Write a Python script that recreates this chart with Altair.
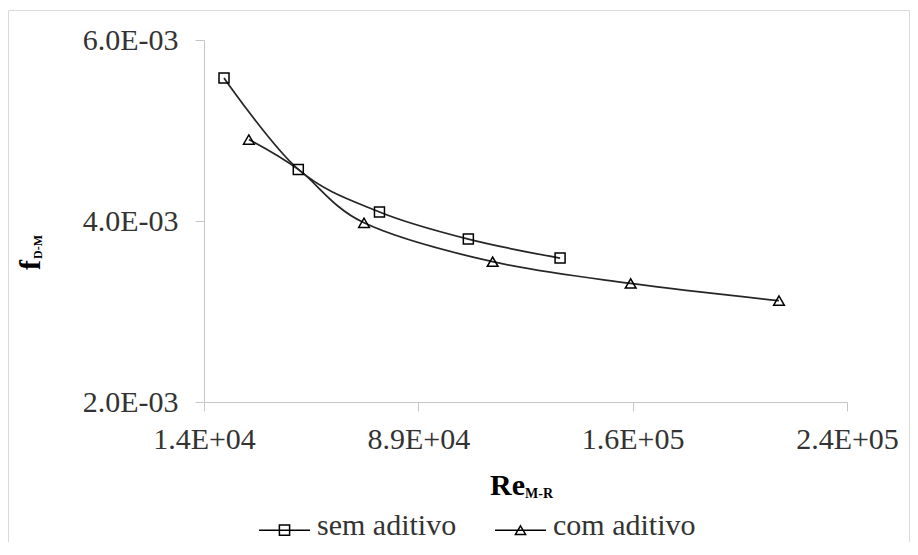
import altair as alt
import pandas as pd

series_names = ["sem aditivo", "com aditivo"]
sem_re = [21000, 47000, 75400, 106500, 138600]
sem_f = [5.58e-3, 4.57e-3, 4.10e-3, 3.80e-3, 3.59e-3]
com_re = [29700, 47000, 70000, 115000, 163300, 215200]
com_f = [4.90e-3, 4.57e-3, 3.98e-3, 3.55e-3, 3.31e-3, 3.12e-3]
x_ticks = [14000, 89000, 164000, 239000]
y_ticks = [0.002, 0.004, 0.006]

df = pd.DataFrame({
    "re": sem_re + com_re,
    "f": sem_f + com_f,
    "serie": [series_names[0]] * len(sem_re) + [series_names[1]] * len(com_re),
})
# the 'com aditivo' point that coincides with a 'sem aditivo' point has no visible marker
df["marker"] = ~((df["serie"] == series_names[1]) & df["re"].isin(sem_re))

FONT = "Liberation Serif"
AX = "#c6c6c6"
TXT = "#333333"
W, H = 643, 362

label_expr = ("substring(upper(format(datum.value,'.1e')),0,5) + '0' + "
              "substring(upper(format(datum.value,'.1e')),5)")

x_enc = alt.X("re:Q",
              scale=alt.Scale(domain=[14000, 239000], nice=False, zero=False),
              axis=alt.Axis(values=x_ticks, labelExpr=label_expr, grid=False,
                            domainColor=AX, tickColor=AX, tickSize=9,
                            labelFont=FONT, labelFontSize=30, labelColor=TXT,
                            labelPadding=13, labelFlush=False, labelOverlap=False,
                            title=""))
y_enc = alt.Y("f:Q",
              scale=alt.Scale(domain=[0.002, 0.006], nice=False, zero=False),
              axis=alt.Axis(values=y_ticks, labelExpr=label_expr, grid=False,
                            domainColor=AX, tickColor=AX, tickSize=9,
                            labelFont=FONT, labelFontSize=30, labelColor=TXT,
                            labelPadding=17, labelFlush=False, labelOverlap=False,
                            title=""))

base = alt.Chart(df)

lines = base.mark_line(interpolate="cardinal", strokeWidth=1.75, color="#262626").encode(
    x=x_enc, y=y_enc, detail="serie:N")

points = base.transform_filter("datum.marker").mark_point(
    filled=False, strokeWidth=1.5, color="black", opacity=1).encode(
    x=x_enc, y=y_enc,
    shape=alt.Shape("serie:N", scale=alt.Scale(domain=series_names, range=["square", "triangle-up"]), legend=None),
    size=alt.Size("serie:N", scale=alt.Scale(domain=series_names, range=[100, 115]), legend=None),
)

path_sem = "M-1,-0.2H1M-0.2,-0.4H0.2V0H-0.2Z"
path_com = "M-1,-0.2H1M0,-0.37L0.2,-0.03H-0.2Z"

legend_layer = base.mark_point(opacity=0, color="black", filled=False).encode(
    x=x_enc, y=y_enc,
    shape=alt.Shape("serie:N",
                    scale=alt.Scale(domain=series_names, range=[path_sem, path_com]),
                    legend=alt.Legend(orient="none", legendX=54, legendY=468.5,
                                      direction="horizontal", title=None,
                                      symbolSize=2601, symbolStrokeColor="black",
                                      symbolStrokeWidth=1.5, symbolFillColor="transparent",
                                      symbolOpacity=1, labelFont=FONT, labelFontSize=30,
                                      labelColor=TXT, labelBaseline="alphabetic",
                                      labelOffset=6, columnPadding=35, padding=0,
                                      labelLimit=400)),
)

def txt(s, x, y, size, angle=0, bold=True):
    return alt.Chart(pd.DataFrame({"t": [s]})).mark_text(
        font=FONT, fontSize=size, fontWeight="bold" if bold else "normal",
        color="black", align="left", baseline="alphabetic", angle=angle,
    ).encode(x=alt.value(x), y=alt.value(y), text="t:N")

x_title = txt("Re", 286, 455, 30)
x_sub = txt("M-R", 321, 458, 14)
y_title = txt("f", -164, 230, 30, angle=270)
y_sub = txt("D-M", -162, 219, 12, angle=270)

border = alt.Chart(pd.DataFrame({"a": [0]})).mark_rect(
    fillOpacity=0, stroke="#d9d9d9", strokeWidth=1).encode(
    x=alt.value(-195.5), x2=alt.value(705.5), y=alt.value(-29.5), y2=alt.value(600))

chart = alt.layer(border, lines, points, legend_layer, x_title, x_sub, y_title, y_sub).resolve_scale(
    shape="independent", size="independent"
).properties(
    width=W, height=H,
    autosize=alt.AutoSizeParams(type="none"),
    padding={"left": 196, "top": 32, "right": 63, "bottom": 140},
    background="white",
).configure_view(strokeWidth=0)

chart.save("out.html", embed_options={"renderer": "svg", "actions": False})
